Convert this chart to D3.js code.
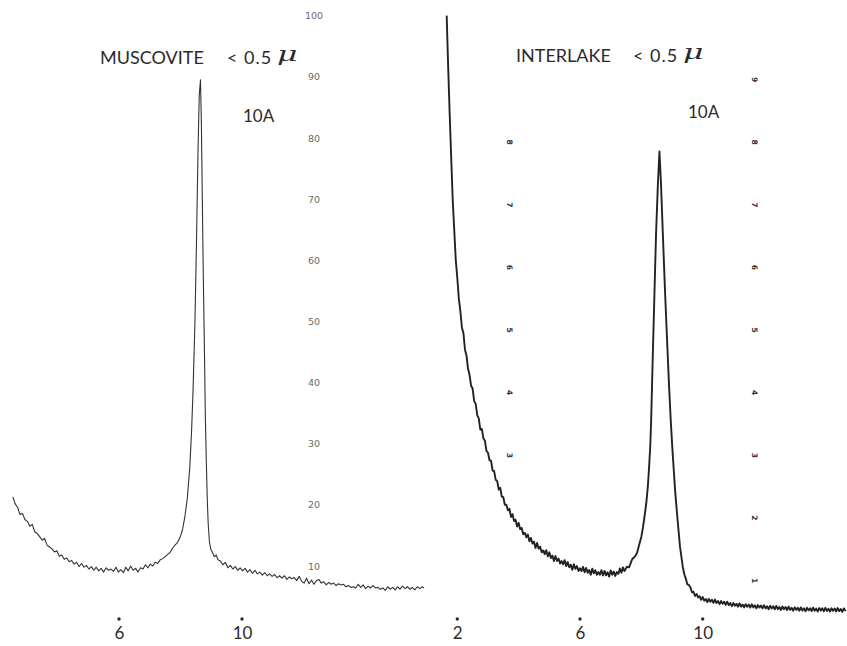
<!DOCTYPE html>
<html>
<head>
<meta charset="utf-8">
<script src="https://cdn.jsdelivr.net/npm/d3@7/dist/d3.min.js"></script>
<style>
  body { margin: 0; background: #fff; }
  svg { display: block; }
  .title { font-family: Lato, "Open Sans", sans-serif; font-size: 18px; fill: #2b2b2b; }
  .lt { letter-spacing: 1px; }
  .mu { font-family: "DejaVu Serif", serif; font-style: italic; font-size: 21px; fill: #2b2b2b; }
  .ylab text { font-family: "DejaVu Sans", sans-serif; font-size: 9.5px; fill: #6a6a6a; }
  .ymark text { font-family: "DejaVu Sans", sans-serif; font-size: 7.5px; font-weight: bold; fill: #333; }
  .xlab text { font-family: Lato, sans-serif; font-size: 17px; fill: #2b2b2b; }
</style>
</head>
<body>
<div id="chart"></div>
<script>
// ---- data ----

// muscovite < 0.5 : [2theta, intensity on the 0-100 scale]
var muscovite = [
  [2.55,21.3],[2.62,20.2],[2.70,19.6],[2.78,18.4],[2.86,18.6],[2.94,17.6],[3.02,17.3],[3.10,16.5],
  [3.18,16.8],[3.26,15.6],[3.34,15.3],[3.42,14.8],[3.50,14.2],[3.58,14.5],[3.66,13.4],[3.74,13.1],
  [3.82,12.8],[3.90,12.3],[3.98,12.5],[4.06,11.6],[4.14,11.8],[4.22,11.1],[4.30,11.3],[4.38,10.7],
  [4.46,10.9],[4.54,10.3],[4.62,10.6],[4.70,9.9],[4.78,10.4],[4.86,9.8],[4.94,10.1],[5.02,9.5],
  [5.10,9.9],[5.18,9.3],[5.26,9.8],[5.34,9.2],[5.42,9.6],[5.50,9.0],[5.58,9.7],[5.66,9.3],
  [5.74,9.5],[5.82,9.1],[5.90,9.8],[5.98,9.0],[6.06,9.4],[6.14,8.9],[6.22,9.8],[6.30,9.2],
  [6.38,10.0],[6.46,9.3],[6.54,9.6],[6.62,9.0],[6.70,9.7],[6.78,9.5],[6.86,10.2],[6.94,9.7],
  [7.02,10.3],[7.10,10.0],[7.18,10.6],[7.26,10.4],[7.34,11.0],[7.42,11.2],[7.50,11.5],[7.58,11.9],
  [7.66,12.2],[7.74,12.9],[7.82,13.4],[7.90,13.8],[7.98,14.6],[8.06,15.8],[8.14,18.0],[8.22,21.0],
  [8.30,26.0],[8.36,32.0],[8.41,39],[8.47,50],[8.52,63],[8.57,78],[8.61,87],[8.65,89.5],
  [8.68,82],[8.71,70],[8.74,58],[8.77,48],[8.81,34],[8.84,27],[8.87,21],[8.90,17],
  [8.94,14],[8.98,12.8],[9.04,12.2],[9.10,11.5],[9.16,11.8],[9.22,11.0],[9.30,10.8],[9.38,10.2],
  [9.46,10.6],[9.54,9.7],[9.62,10.1],[9.70,9.5],[9.78,9.9],[9.86,9.3],[9.94,9.7],[10.02,9.2],
  [10.10,9.6],[10.18,9.0],[10.26,9.4],[10.34,8.8],[10.42,9.3],[10.50,8.7],[10.58,9.0],[10.66,8.5],
  [10.74,8.9],[10.82,8.4],[10.90,8.7],[10.98,8.3],[11.06,8.6],[11.14,8.1],[11.22,8.4],[11.30,8.0],
  [11.38,8.4],[11.46,7.8],[11.54,8.2],[11.62,7.9],[11.70,8.1],[11.78,7.6],[11.86,8.3],[11.94,7.5],
  [12.02,7.2],[12.10,8.0],[12.18,7.1],[12.26,7.7],[12.34,7.0],[12.42,7.6],[12.50,7.8],[12.58,7.2],
  [12.66,7.4],[12.74,6.9],[12.82,7.3],[12.90,7.0],[12.98,7.2],[13.06,6.8],[13.14,7.1],[13.22,6.9],
  [13.30,7.0],[13.38,6.6],[13.46,6.8],[13.54,6.5],[13.62,6.6],[13.70,6.4],[13.78,7.0],[13.86,6.5],
  [13.94,6.9],[14.02,6.3],[14.10,6.7],[14.18,6.4],[14.26,6.8],[14.34,6.4],[14.42,6.5],[14.50,6.2],
  [14.58,6.4],[14.66,6.0],[14.74,6.6],[14.82,6.2],[14.90,6.5],[14.98,6.1],[15.06,6.6],[15.14,6.2],
  [15.22,6.7],[15.30,6.3],[15.38,6.6],[15.46,6.2],[15.54,6.5],[15.62,6.1],[15.70,6.6],[15.78,6.3],
  [15.86,6.6],[15.92,6.4]
];

// interlake < 0.5 : [2theta, intensity on the 1-9 chart scale]
var interlake = [
  [1.654,9.98],[1.70,9.2],[1.75,8.43],[1.80,7.73],[1.85,7.04],[1.90,6.56],[1.95,6.08],
  [2.00,5.79],[2.05,5.46],[2.10,5.26],[2.15,5.00],[2.20,4.91],[2.25,4.65],[2.30,4.55],[2.35,4.34],
  [2.40,4.24],[2.45,4.07],[2.50,4.025],[2.55,3.825],[2.60,3.78],[2.65,3.60],[2.70,3.55],[2.75,3.37],
  [2.80,3.38],[2.85,3.23],[2.90,3.19],[2.95,3.03],[3.00,3.00],[3.05,2.88],[3.10,2.875],[3.15,2.715],
  [3.20,2.71],[3.25,2.57],[3.30,2.55],[3.35,2.41],[3.40,2.44],[3.45,2.30],[3.50,2.29],[3.55,2.17],
  [3.60,2.17],[3.65,2.08],[3.70,2.105],[3.75,1.975],[3.80,2.02],[3.85,1.91],[3.90,1.93],[3.95,1.82],
  [4.00,1.88],[4.05,1.78],[4.10,1.80],[4.15,1.70],[4.20,1.72],[4.25,1.65],[4.30,1.695],[4.35,1.585],
  [4.40,1.64],[4.45,1.55],[4.50,1.58],[4.55,1.48],[4.60,1.56],[4.65,1.47],[4.70,1.50],[4.75,1.41],
  [4.80,1.44],[4.85,1.38],[4.90,1.445],[4.95,1.345],[5.00,1.41],[5.05,1.32],[5.10,1.36],[5.15,1.27],
  [5.20,1.35],[5.25,1.27],[5.30,1.31],[5.35,1.23],[5.40,1.27],[5.45,1.22],[5.50,1.285],[5.55,1.19],
  [5.60,1.254],[5.65,1.17],[5.70,1.21],[5.75,1.13],[5.80,1.22],[5.85,1.146],[5.90,1.19],[5.95,1.113],
  [6.00,1.156],[6.05,1.11],[6.10,1.178],[6.15,1.092],[6.20,1.16],[6.25,1.084],[6.30,1.127],[6.35,1.052],
  [6.40,1.149],[6.45,1.076],[6.50,1.123],[6.55,1.05],[6.60,1.096],[6.65,1.053],[6.70,1.125],[6.75,1.041],
  [6.80,1.113],[6.85,1.042],[6.90,1.092],[6.95,1.022],[7.00,1.122],[7.05,1.052],[7.10,1.102],[7.15,1.032],
  [7.20,1.095],[7.25,1.066],[7.30,1.152],[7.35,1.085],[7.40,1.17],[7.45,1.11],[7.53,1.18],[7.60,1.17],
  [7.70,1.30],[7.80,1.35],[7.86,1.40],[7.94,1.55],[8.00,1.66],[8.05,1.80],[8.10,1.97],[8.16,2.19],
  [8.21,2.45],[8.25,2.75],[8.29,3.10],[8.32,3.52],[8.37,4.50],[8.43,5.60],[8.48,6.51],[8.54,7.30],
  [8.59,7.81],[8.64,7.30],[8.70,6.51],[8.77,5.60],[8.83,4.90],[8.90,4.10],[8.96,3.50],[9.02,3.00],
  [9.10,2.40],[9.18,1.93],[9.26,1.50],[9.35,1.18],[9.40,1.06],[9.45,0.99],[9.50,0.90],[9.55,0.89],
  [9.60,0.850],[9.65,0.772],[9.70,0.780],[9.75,0.712],[9.80,0.745],[9.85,0.690],[9.90,0.710],[9.95,0.652],
  [10.00,0.695],[10.05,0.637],[10.10,0.664],[10.15,0.615],[10.20,0.666],[10.25,0.622],[10.30,0.653],[10.35,0.604],
  [10.40,0.655],[10.45,0.601],[10.50,0.631],[10.55,0.582],[10.60,0.633],[10.65,0.589],[10.70,0.620],[10.75,0.571],
  [10.80,0.622],[10.85,0.568],[10.90,0.599],[10.95,0.550],[11.00,0.601],[11.05,0.557],[11.10,0.588],[11.15,0.542],
  [11.20,0.595],[11.25,0.543],[11.30,0.577],[11.35,0.530],[11.40,0.583],[11.45,0.541],[11.50,0.575],[11.55,0.528],
  [11.60,0.581],[11.65,0.530],[11.70,0.563],[11.75,0.516],[11.80,0.569],[11.85,0.528],[11.90,0.561],[11.95,0.514],
  [12.00,0.567],[12.05,0.516],[12.10,0.549],[12.15,0.502],[12.20,0.556],[12.25,0.514],[12.30,0.548],[12.35,0.501],
  [12.40,0.555],[12.45,0.503],[12.50,0.537],[12.55,0.490],[12.60,0.544],[12.65,0.502],[12.70,0.536],[12.75,0.489],
  [12.80,0.543],[12.85,0.491],[12.90,0.525],[12.95,0.478],[13.00,0.532],[13.05,0.491],[13.10,0.524],[13.15,0.478],
  [13.20,0.531],[13.25,0.480],[13.30,0.515],[13.35,0.469],[13.40,0.524],[13.45,0.483],[13.50,0.518],[13.55,0.473],
  [13.60,0.527],[13.65,0.477],[13.70,0.511],[13.75,0.466],[13.80,0.521],[13.85,0.480],[13.90,0.515],[13.95,0.469],
  [14.00,0.524],[14.05,0.474],[14.10,0.508],[14.15,0.463],[14.20,0.517],[14.25,0.477],[14.30,0.512],[14.35,0.466],
  [14.40,0.521],[14.45,0.471],[14.50,0.505],[14.55,0.460],[14.60,0.515],[14.66,0.474]
];

// tick labels
var musXTicks = [6, 10];
var musYTicks = [10, 20, 30, 40, 50, 60, 70, 80, 90, 100];
var intXTicks = [2, 6, 10];
var intYTicksInner = [3, 4, 5, 6, 7, 8];
var intYTicksOuter = [1, 2, 3, 4, 5, 6, 7, 8, 9];

var W = 847, H = 646;

var svg = d3.select("#chart").append("svg")
    .attr("width", W)
    .attr("height", H);

// scales: each panel keeps its own paper scale
var xMus = d3.scaleLinear().domain([6, 10]).range([119, 242]);
var yMus = d3.scaleLinear().domain([0, 100]).range([627.1, 15.7]);

var xInt = d3.scaleLinear().domain([2, 10]).range([457.3, 702.7]);
var yInt = d3.scaleLinear().domain([1, 9]).range([578, 77]);

// traces
var lineMus = d3.line()
    .x(function(d) { return xMus(d[0]); })
    .y(function(d) { return yMus(d[1]); });

var lineInt = d3.line()
    .x(function(d) { return xInt(d[0]); })
    .y(function(d) { return yInt(d[1]); });

svg.append("path")
    .datum(muscovite)
    .attr("fill", "none")
    .attr("stroke", "#333")
    .attr("stroke-width", 1.1)
    .attr("stroke-linejoin", "round")
    .attr("d", lineMus);

// the interlake trace is a heavier, fuzzier pen line
svg.append("path")
    .datum(interlake)
    .attr("fill", "none")
    .attr("stroke", "#222")
    .attr("stroke-width", 1.9)
    .attr("stroke-linejoin", "round")
    .attr("d", lineInt);

// y labels of the muscovite chart (text only, no axis line)
var yAxisMus = d3.axisLeft(yMus).tickValues(musYTicks).tickSize(0).tickPadding(0);
var gy = svg.append("g")
    .attr("class", "ylab")
    .attr("transform", "translate(314,0)")
    .call(yAxisMus);
gy.select(".domain").remove();
gy.selectAll("text").attr("text-anchor", "middle").attr("x", 0);

// small rotated numerals of the interlake chart
function markColumn(xpos, ticks) {
    var ax = d3.axisLeft(yInt).tickValues(ticks).tickSize(0).tickPadding(0);
    var g = svg.append("g")
        .attr("class", "ymark")
        .attr("transform", "translate(" + xpos + ",2)")
        .call(ax);
    g.select(".domain").remove();
    g.selectAll("text")
        .attr("text-anchor", "middle")
        .attr("x", 0)
        .attr("dy", "0.35em")
        .attr("transform", "rotate(90)");
}
markColumn(510, intYTicksInner);
markColumn(755, intYTicksOuter);

// x labels with a dot above each one
function xLabels(scale, ticks) {
    var ax = d3.axisBottom(scale).tickValues(ticks).tickSize(0).tickPadding(8)
        .tickFormat(d3.format("d"));
    var g = svg.append("g")
        .attr("class", "xlab")
        .attr("transform", "translate(0,619)")
        .call(ax);
    g.select(".domain").remove();
    svg.selectAll(null)
        .data(ticks)
        .enter().append("circle")
        .attr("cx", function(d) { return scale(d); })
        .attr("cy", 619)
        .attr("r", 1.7)
        .attr("fill", "#2b2b2b");
}
xLabels(xMus, musXTicks);
xLabels(xInt, intXTicks);

// titles
function title(x, y, name, sx) {
    svg.append("text").attr("class", "title").attr("x", x).attr("y", y).text(name);
    svg.append("text").attr("class", "title lt").attr("x", sx).attr("y", y).text("< 0.5");
    // the micron sign is set wide and sits on the baseline
    svg.append("text").attr("class", "mu")
        .attr("transform", "translate(" + (sx + 50) + "," + (y - 3) + ") scale(1.5,1)")
        .text("\u03bc");
}
title(100, 64, "MUSCOVITE", 227);
title(516, 62, "INTERLAKE", 633);

svg.append("text").attr("class", "title").style("font-size", "17px")
    .attr("x", 243).attr("y", 122).text("10A");
svg.append("text").attr("class", "title").style("font-size", "17px")
    .attr("x", 688).attr("y", 118).text("10A");
</script>
</body>
</html>
